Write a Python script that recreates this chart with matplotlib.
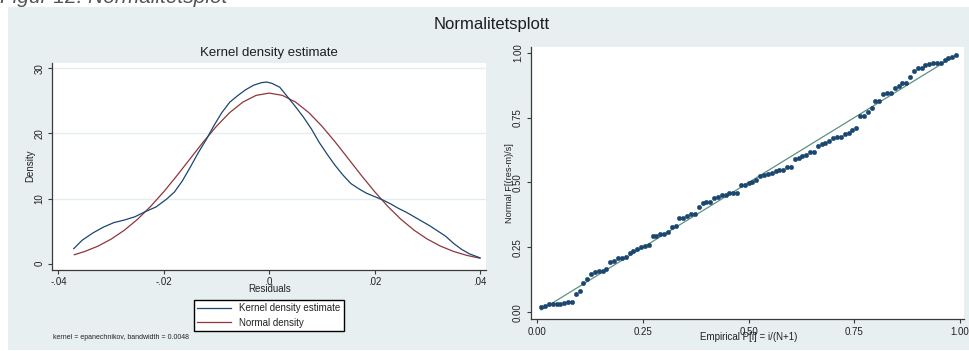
import numpy as np
import matplotlib
matplotlib.use("Agg")
import matplotlib.pyplot as plt
from matplotlib.patches import Rectangle

plt.rcParams["font.family"] = ["Liberation Sans", "DejaVu Sans"]

# ---------------- data ----------------
# Kernel density estimate of the residuals
kd_resid = [-0.0371, -0.0355, -0.0335, -0.0315, -0.0295, -0.0275, -0.0255, -0.0235,
            -0.0215, -0.0195, -0.0180, -0.0165, -0.0150, -0.0135, -0.0120, -0.0105,
            -0.0090, -0.0075, -0.0060, -0.0045, -0.0030, -0.0015, -0.0005, 0.0005,
            0.0020, 0.0035, 0.0050, 0.0065, 0.0080, 0.0095, 0.0110, 0.0125,
            0.0140, 0.0155, 0.0170, 0.0185, 0.0200, 0.0215, 0.0230, 0.0245,
            0.0260, 0.0275, 0.0290, 0.0305, 0.0320, 0.0335, 0.0350, 0.0365,
            0.0380, 0.0400]
kd_density = [2.3, 3.6, 4.7, 5.6, 6.3, 6.7, 7.2, 8.0,
              8.7, 9.9, 11.0, 12.7, 14.8, 17.0, 19.0, 21.2,
              23.2, 24.8, 25.8, 26.7, 27.4, 27.8, 27.9, 27.7,
              27.1, 25.6, 24.1, 22.5, 20.7, 18.6, 16.8, 15.1,
              13.6, 12.3, 11.5, 10.8, 10.3, 9.8, 9.2, 8.5,
              7.9, 7.2, 6.5, 5.8, 5.0, 4.2, 3.1, 2.2,
              1.5, 0.9]

# Normal density with the residuals' mean and sd
nd_resid = [-0.037, -0.035, -0.0325, -0.030, -0.0275, -0.025, -0.0225, -0.020,
            -0.0175, -0.015, -0.0125, -0.010, -0.0075, -0.005, -0.0025, 0.0,
            0.0025, 0.005, 0.0075, 0.010, 0.0125, 0.015, 0.0175, 0.020,
            0.0225, 0.025, 0.0275, 0.030, 0.0325, 0.035, 0.0375, 0.040]
nd_density = [1.37, 1.87, 2.69, 3.77, 5.13, 6.81, 8.80, 11.06,
              13.54, 16.13, 18.71, 21.12, 23.21, 24.82, 25.85, 26.20,
              25.85, 24.82, 23.21, 21.12, 18.71, 16.13, 13.54, 11.06,
              8.80, 6.81, 5.13, 3.77, 2.69, 1.87, 1.27, 0.83]

kd_xticks = [-0.04, -0.02, 0.0, 0.02, 0.04]
kd_xticklabels = ["-.04", "-.02", "0", ".02", ".04"]
kd_yticks = [0, 10, 20, 30]
kd_yticklabels = ["0", "10", "20", "30"]

# Standardised normal probability plot: Normal F[(res-m)/s] for each sorted residual
pnorm_F = [0.021, 0.023, 0.031, 0.033, 0.033, 0.032, 0.037, 0.039, 0.039, 0.071,
           0.083, 0.112, 0.128, 0.146, 0.157, 0.159, 0.159, 0.166, 0.195, 0.198,
           0.211, 0.211, 0.214, 0.227, 0.236, 0.244, 0.250, 0.254, 0.259, 0.294,
           0.294, 0.302, 0.302, 0.311, 0.327, 0.332, 0.362, 0.365, 0.372, 0.377,
           0.377, 0.407, 0.422, 0.426, 0.426, 0.439, 0.445, 0.452, 0.452, 0.458,
           0.461, 0.461, 0.489, 0.492, 0.497, 0.502, 0.510, 0.525, 0.529, 0.533,
           0.538, 0.544, 0.548, 0.548, 0.558, 0.558, 0.589, 0.596, 0.602, 0.605,
           0.616, 0.619, 0.642, 0.647, 0.651, 0.661, 0.670, 0.677, 0.677, 0.687,
           0.692, 0.702, 0.710, 0.756, 0.756, 0.773, 0.788, 0.814, 0.815, 0.840,
           0.843, 0.846, 0.865, 0.873, 0.882, 0.882, 0.908, 0.929, 0.940, 0.940,
           0.953, 0.955, 0.959, 0.962, 0.962, 0.972, 0.981, 0.985, 0.991]
pp_ticks = [0.0, 0.25, 0.5, 0.75, 1.0]
pp_ticklabels = ["0.00", "0.25", "0.50", "0.75", "1.00"]

# empirical probabilities P[i] = i/(N+1)
n_obs = len(pnorm_F)
pnorm_P = np.arange(1, n_obs + 1) / (n_obs + 1)

# ---------------- figure ----------------
W, H, DPI = 970, 351, 100
fig = plt.figure(figsize=(W / DPI, H / DPI), dpi=DPI)
fig.patch.set_facecolor("white")

def fx(px):
    return px / W

def fy(py):
    return 1 - py / H

BG = "#e7eff1"
AXC = "#3a3a3a"
NAVY = "#1a476f"
MAROON = "#90353b"
TEAL = "#5f8f82"

# graph region
fig.add_artist(Rectangle((fx(8), fy(350)), 1 - fx(8), fy(7) - fy(350),
                         transform=fig.transFigure, facecolor=BG, edgecolor="none", zorder=0))

# caption line above the graph, partly outside the frame
fig.text(fx(0), fy(3), "Figur 12. Normalitetsplot", fontsize=15, style="italic",
         color="#555555", ha="left", va="baseline")

fig.text(fx(492), fy(25), "Normalitetsplott", fontsize=12, color="#1e1e1e",
         ha="center", va="center")


def style_axes(ax):
    for s in ("top", "right"):
        ax.spines[s].set_visible(False)
    for s in ("left", "bottom"):
        ax.spines[s].set_color(AXC)
        ax.spines[s].set_linewidth(0.9)
    ax.tick_params(direction="out", length=3, width=0.8, color=AXC,
                   labelsize=7, labelcolor="#222222", pad=2.5)
    for lab in ax.get_yticklabels():
        lab.set_rotation(90)
        lab.set_va("center")
    ax.set_facecolor("white")


# ---- left: kernel density ----
ax1 = fig.add_axes([fx(52), fy(269.5), fx(486) - fx(52), fy(62.5) - fy(269.5)])
ax1.set_xlim(-0.04123, 0.04114)
ax1.set_ylim(-0.9, 30.9)
ax1.set_xticks(kd_xticks)
ax1.set_xticklabels(kd_xticklabels)
ax1.set_yticks(kd_yticks)
ax1.set_yticklabels(kd_yticklabels)
for g in kd_yticks[1:]:
    ax1.axhline(g, color="#e4edf0", lw=1.0, zorder=1)
l1, = ax1.plot(kd_resid, kd_density, color=NAVY, lw=0.9, zorder=3,
               label="Kernel density estimate")
l2, = ax1.plot(nd_resid, nd_density, color=MAROON, lw=0.9, zorder=2,
               label="Normal density")
style_axes(ax1)

fig.text(fx(269), fy(53.3), "Kernel density estimate", fontsize=9.5,
         color="#1e1e1e", ha="center", va="center")
fig.text(fx(270), fy(288.5), "Residuals", fontsize=7, color="#222222",
         ha="center", va="center")
fig.text(fx(30.7), fy(166), "Density", fontsize=7, color="#222222",
         ha="center", va="center", rotation=90)

leg = ax1.legend(handles=[l1, l2], loc="upper left",
                 bbox_to_anchor=(fx(194), fy(300)), bbox_transform=fig.transFigure,
                 borderaxespad=0, fontsize=7, frameon=True, fancybox=False,
                 handlelength=3.5, handletextpad=0.8, labelspacing=0.45,
                 borderpad=0.35)
leg.get_frame().set_edgecolor("black")
leg.get_frame().set_linewidth(1.0)
leg.get_frame().set_facecolor("white")
leg.get_frame().set_alpha(1)
for t in leg.get_texts():
    t.set_color("#222222")

fig.text(fx(53), fy(337.7), "kernel = epanechnikov, bandwidth = 0.0048",
         fontsize=5, color="#222222", ha="left", va="center")

# ---- right: standardised normal probability plot ----
ax2 = fig.add_axes([fx(530.7), fy(319.3), fx(964.3) - fx(530.7), fy(46.7) - fy(319.3)])
ax2.set_xlim(-0.0156, 1.0102)
ax2.set_ylim(-0.027, 1.023)
ax2.set_xticks(pp_ticks)
ax2.set_xticklabels(pp_ticklabels)
ax2.set_yticks(pp_ticks)
ax2.set_yticklabels(pp_ticklabels)
ax2.plot(pnorm_P, pnorm_F, linestyle="none", marker="o", ms=3.2,
         mfc=NAVY, mec=NAVY, mew=0.3, zorder=3)
ax2.plot([pnorm_P[0], pnorm_P[-1]], [pnorm_P[0], pnorm_P[-1]],
         color=TEAL, lw=0.9, zorder=2)
style_axes(ax2)

fig.text(fx(748.5), fy(336.7), "Empirical P[i] = i/(N+1)", fontsize=7,
         color="#222222", ha="center", va="center")
fig.text(fx(510), fy(183), "Normal F[(res-m)/s]", fontsize=6.6,
         color="#222222", ha="center", va="center", rotation=90)

fig.savefig("out.png", dpi=DPI, facecolor="white")
